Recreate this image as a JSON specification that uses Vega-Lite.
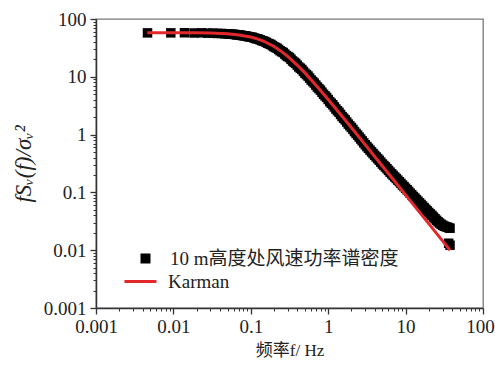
{
  "$schema": "https://vega.github.io/schema/vega-lite/v6.json",
  "width": 387,
  "height": 289,
  "autosize": "none",
  "padding": {"left": 96, "top": 19, "right": 12, "bottom": 58},
  "background": "white",
  "config": {"view": {"stroke": "#7a7a7a", "strokeWidth": 1.3}, "font": "Liberation Serif"},
  "datasets": {
    "measured": [
      {"f": 0.00463, "v": 57.5}, {"f": 0.00926, "v": 57.6}, {"f": 0.0139, "v": 57.8}, {"f": 0.0185, "v": 57.3},
      {"f": 0.0232, "v": 57.6}, {"f": 0.0278, "v": 56.9}, {"f": 0.0324, "v": 56.9}, {"f": 0.037, "v": 56.2},
      {"f": 0.0417, "v": 56.3}, {"f": 0.0463, "v": 55.5}, {"f": 0.05, "v": 55.4}, {"f": 0.0548, "v": 54.6},
      {"f": 0.0601, "v": 54.3}, {"f": 0.0659, "v": 53.2}, {"f": 0.0723, "v": 52.9}, {"f": 0.0793, "v": 51.4},
      {"f": 0.0869, "v": 50.8}, {"f": 0.0953, "v": 49.1}, {"f": 0.1045, "v": 48.3}, {"f": 0.1146, "v": 46.1},
      {"f": 0.1257, "v": 44.9}, {"f": 0.1378, "v": 42.4}, {"f": 0.1511, "v": 40.9}, {"f": 0.1657, "v": 38.1},
      {"f": 0.1817, "v": 36.3}, {"f": 0.1992, "v": 33.2}, {"f": 0.2184, "v": 31.3}, {"f": 0.2395, "v": 28.2},
      {"f": 0.2626, "v": 26.3}, {"f": 0.288, "v": 23.3}, {"f": 0.3158, "v": 21.6}, {"f": 0.3463, "v": 18.8},
      {"f": 0.3797, "v": 17.1}, {"f": 0.4163, "v": 14.8}, {"f": 0.4565, "v": 13.4}, {"f": 0.5006, "v": 11.5},
      {"f": 0.5489, "v": 10.3}, {"f": 0.6019, "v": 8.8}, {"f": 0.66, "v": 7.8}, {"f": 0.7237, "v": 6.65},
      {"f": 0.7935, "v": 5.88}, {"f": 0.8701, "v": 4.98}, {"f": 0.9541, "v": 4.4}, {"f": 1.046, "v": 3.72},
      {"f": 1.147, "v": 3.28}, {"f": 1.258, "v": 2.77}, {"f": 1.379, "v": 2.43}, {"f": 1.512, "v": 2.05},
      {"f": 1.658, "v": 1.8}, {"f": 1.818, "v": 1.52}, {"f": 1.994, "v": 1.33}, {"f": 2.186, "v": 1.13},
      {"f": 2.397, "v": 0.98}, {"f": 2.629, "v": 0.84}, {"f": 2.882, "v": 0.72}, {"f": 3.161, "v": 0.62},
      {"f": 3.466, "v": 0.54}, {"f": 3.8, "v": 0.47}, {"f": 4.167, "v": 0.41}, {"f": 4.569, "v": 0.36},
      {"f": 5.01, "v": 0.31}, {"f": 5.494, "v": 0.275}, {"f": 6.024, "v": 0.24}, {"f": 6.606, "v": 0.21},
      {"f": 7.243, "v": 0.185}, {"f": 7.943, "v": 0.163}, {"f": 8.709, "v": 0.143}, {"f": 9.55, "v": 0.126},
      {"f": 10.47, "v": 0.111}, {"f": 11.48, "v": 0.097}, {"f": 12.59, "v": 0.085}, {"f": 13.8, "v": 0.075},
      {"f": 15.14, "v": 0.066}, {"f": 16.6, "v": 0.058}, {"f": 18.2, "v": 0.051}, {"f": 19.95, "v": 0.045},
      {"f": 21.88, "v": 0.04}, {"f": 23.99, "v": 0.035}, {"f": 26.3, "v": 0.031}, {"f": 28.84, "v": 0.028},
      {"f": 31.62, "v": 0.026}, {"f": 34.67, "v": 0.025}, {"f": 37.5, "v": 0.024},
      {"f": 36.0, "v": 0.0132}, {"f": 37.5, "v": 0.0122},
      {"f": 0.0523, "v": 55.0}, {"f": 0.0574, "v": 54.45}, {"f": 0.0629, "v": 53.75}, {"f": 0.069, "v": 53.05},
      {"f": 0.0757, "v": 52.15}, {"f": 0.083, "v": 51.1}, {"f": 0.091, "v": 49.95}, {"f": 0.0998, "v": 48.7},
      {"f": 0.1094, "v": 47.2}, {"f": 0.12, "v": 45.5}, {"f": 0.132, "v": 43.6}, {"f": 0.1443, "v": 41.6},
      {"f": 0.1582, "v": 39.5}, {"f": 0.1735, "v": 37.2}, {"f": 0.1903, "v": 34.7}, {"f": 0.2086, "v": 32.2},
      {"f": 0.2287, "v": 29.7}, {"f": 0.2508, "v": 27.2}, {"f": 0.275, "v": 24.75}, {"f": 0.3016, "v": 22.4},
      {"f": 0.3307, "v": 20.15}, {"f": 0.3626, "v": 17.9}, {"f": 0.3976, "v": 15.9}, {"f": 0.4359, "v": 14.1},
      {"f": 0.478, "v": 12.4}, {"f": 0.5242, "v": 10.9}, {"f": 0.5748, "v": 9.52}, {"f": 0.6303, "v": 8.28},
      {"f": 0.6911, "v": 7.2}, {"f": 0.7578, "v": 6.25}, {"f": 0.8309, "v": 5.41}, {"f": 0.9111, "v": 4.68},
      {"f": 0.999, "v": 4.05}, {"f": 1.0953, "v": 3.49}, {"f": 1.201, "v": 3.01}, {"f": 1.3172, "v": 2.59},
      {"f": 1.4443, "v": 2.23}, {"f": 1.5832, "v": 1.92}, {"f": 1.7361, "v": 1.65}, {"f": 1.9037, "v": 1.42},
      {"f": 2.0874, "v": 1.23}, {"f": 2.2889, "v": 1.05}, {"f": 2.5099, "v": 0.907}, {"f": 2.7529, "v": 0.778},
      {"f": 3.0178, "v": 0.668}, {"f": 3.3097, "v": 0.579}, {"f": 3.6291, "v": 0.504}, {"f": 3.979, "v": 0.439},
      {"f": 4.363, "v": 0.384}, {"f": 4.784, "v": 0.334}, {"f": 5.246, "v": 0.292}, {"f": 5.753, "v": 0.257},
      {"f": 6.308, "v": 0.224}, {"f": 6.917, "v": 0.197}, {"f": 7.584, "v": 0.174}, {"f": 8.317, "v": 0.153},
      {"f": 9.119, "v": 0.134}, {"f": 9.999, "v": 0.118}, {"f": 10.96, "v": 0.104}, {"f": 12.02, "v": 0.091},
      {"f": 13.18, "v": 0.08}, {"f": 14.45, "v": 0.0704}, {"f": 15.85, "v": 0.0619}, {"f": 17.38, "v": 0.0544},
      {"f": 19.06, "v": 0.0479}, {"f": 20.89, "v": 0.0424}, {"f": 22.91, "v": 0.0374}, {"f": 25.12, "v": 0.0329},
      {"f": 27.54, "v": 0.0295}, {"f": 30.2, "v": 0.027}, {"f": 33.11, "v": 0.0255}, {"f": 36.0, "v": 0.0245}
    ],
    "karman": [
      {"f": 0.0046, "v": 58.0}, {"f": 0.01, "v": 57.9}, {"f": 0.02, "v": 57.55}, {"f": 0.03, "v": 57.0},
      {"f": 0.05, "v": 55.3}, {"f": 0.07, "v": 53.0}, {"f": 0.1, "v": 48.7}, {"f": 0.13, "v": 44.0},
      {"f": 0.15, "v": 40.8}, {"f": 0.2, "v": 33.45}, {"f": 0.25, "v": 27.3}, {"f": 0.3, "v": 22.56},
      {"f": 0.4, "v": 15.8}, {"f": 0.5, "v": 11.68}, {"f": 0.7, "v": 7.09}, {"f": 1, "v": 4.05},
      {"f": 1.5, "v": 2.1}, {"f": 2, "v": 1.31}, {"f": 3, "v": 0.67}, {"f": 5, "v": 0.287},
      {"f": 7, "v": 0.164}, {"f": 10, "v": 0.0905}, {"f": 15, "v": 0.0461}, {"f": 20, "v": 0.02854},
      {"f": 30, "v": 0.01452}, {"f": 37.5, "v": 0.01}
    ]
  },
  "layer": [
    {
      "data": {"name": "measured"},
      "mark": {"type": "point", "shape": "square", "filled": true, "size": 90, "opacity": 1, "strokeWidth": 0},
      "encoding": {
        "x": {
          "field": "f", "type": "quantitative",
          "scale": {"type": "log", "domain": [0.001, 100], "nice": false},
          "axis": {
            "orient": "bottom", "values": [0.001, 0.01, 0.1, 1, 10, 100], "format": "~g",
            "labelFont": "Liberation Serif", "labelFontSize": 19, "labelColor": "#222",
            "labelFlush": false, "labelOverlap": false, "labelPadding": 3,
            "labelOffset": {"condition": {"test": "datum.value == 100", "value": -3}, "value": 0},
            "tickSize": 6, "tickColor": "#333", "tickWidth": 1.3,
            "domainColor": "#333", "domainWidth": 1.5, "grid": false,
            "title": "频率f/ Hz", "titleFont": "Liberation Serif, Noto Sans CJK SC", "titleFontSize": 17,
            "titleFontWeight": "normal", "titleColor": "#222", "titlePadding": 6
          }
        },
        "y": {
          "field": "v", "type": "quantitative",
          "scale": {"type": "log", "domain": [0.001, 100], "nice": false},
          "axis": {
            "orient": "left", "values": [0.001, 0.01, 0.1, 1, 10, 100], "format": "~g",
            "labelFont": "Liberation Serif", "labelFontSize": 19, "labelColor": "#222",
            "labelFlush": false, "labelOverlap": false, "labelPadding": 4,
            "tickSize": 6, "tickColor": "#333", "tickWidth": 1.3,
            "domainColor": "#333", "domainWidth": 1.5, "grid": false,
            "title": "fSᵥ(f)/σᵥ²", "titleFont": "Liberation Serif, DejaVu Serif", "titleFontStyle": "italic",
            "titleFontSize": 23, "titleFontWeight": "normal", "titleColor": "#222", "titlePadding": 8
          }
        },
        "fill": {
          "datum": "10 m高度处风速功率谱密度", "type": "nominal",
          "scale": {"range": ["#000000"]},
          "legend": {
            "orient": "none", "legendX": 40, "legendY": 230, "title": null, "padding": 0,
            "symbolType": "square", "symbolSize": 100, "symbolStrokeWidth": 0,
            "labelFont": "Liberation Serif, Noto Sans CJK SC", "labelFontSize": 19, "labelColor": "#222",
            "labelOffset": 15, "labelLimit": 400
          }
        }
      }
    },
    {
      "data": {"name": "karman"},
      "mark": {"type": "line", "strokeWidth": 3},
      "encoding": {
        "x": {
          "field": "f", "type": "quantitative",
          "scale": {"type": "log", "domain": [0.001, 100], "nice": false},
          "axis": {
            "orient": "bottom",
            "values": [0.002, 0.003, 0.004, 0.005, 0.006, 0.007, 0.008, 0.009, 0.02, 0.03, 0.04, 0.05, 0.06, 0.07, 0.08, 0.09, 0.2, 0.3, 0.4, 0.5, 0.6, 0.7, 0.8, 0.9, 2, 3, 4, 5, 6, 7, 8, 9, 20, 30, 40, 50, 60, 70, 80, 90],
            "labels": false, "domain": false, "grid": false, "title": null,
            "tickSize": 3, "tickColor": "#333", "tickWidth": 1
          }
        },
        "y": {
          "field": "v", "type": "quantitative",
          "scale": {"type": "log", "domain": [0.001, 100], "nice": false},
          "axis": {
            "orient": "left",
            "values": [0.002, 0.003, 0.004, 0.005, 0.006, 0.007, 0.008, 0.009, 0.02, 0.03, 0.04, 0.05, 0.06, 0.07, 0.08, 0.09, 0.2, 0.3, 0.4, 0.5, 0.6, 0.7, 0.8, 0.9, 2, 3, 4, 5, 6, 7, 8, 9, 20, 30, 40, 50, 60, 70, 80, 90],
            "labels": false, "domain": false, "grid": false, "title": null,
            "tickSize": 3, "tickColor": "#333", "tickWidth": 1
          }
        },
        "stroke": {
          "datum": "Karman", "type": "nominal",
          "scale": {"range": ["#e3282c"]},
          "legend": {
            "orient": "none", "legendX": 27, "legendY": 245, "title": null, "padding": 0,
            "symbolType": "stroke", "symbolSize": 1024, "symbolStrokeWidth": 3,
            "labelFont": "Liberation Serif", "labelFontSize": 19, "labelColor": "#222",
            "labelOffset": 10
          }
        }
      }
    }
  ],
  "resolve": {"axis": {"x": "independent", "y": "independent"}}
}
